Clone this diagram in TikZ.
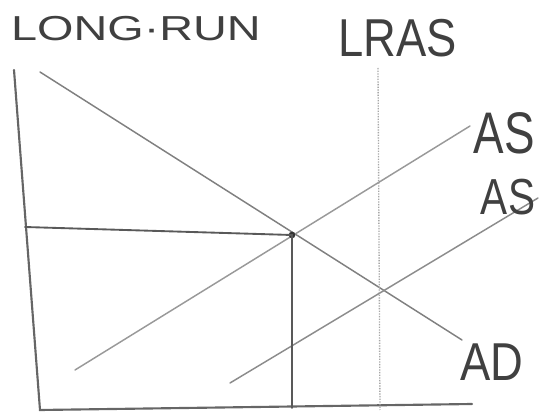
\documentclass[tikz,border=0pt]{standalone}
\usepackage{fontspec}
\setmainfont{Liberation Sans}
\begin{document}
\begin{tikzpicture}[x=0.75pt,y=-0.75pt,
  axis/.style={draw=black!60,line width=1.6pt,line cap=round},
  curve/.style={draw=black!50,line width=1.1pt,line cap=round},
  guide/.style={draw=black!65,line width=1.4pt,line cap=round},
  lras/.style={draw=black!35,line width=1pt,densely dotted},
  lbl/.style={text=black!75,inner sep=0pt,font=\fontsize{40}{40}\selectfont},
  dot/.style={circle,fill=black!80,inner sep=0pt,minimum size=5pt}]
\useasboundingbox (0,0) rectangle (540,417);
% axes
\coordinate (yTop) at (14,70);
\coordinate (O) at (40,410);
\coordinate (xEnd) at (472,404);
\coordinate (yP) at (25,227);
\draw[axis] (yTop) -- (O) -- (xEnd);
% AD
\coordinate (ADs) at (40,72);
\coordinate (ADe) at (462,340);
\draw[curve] (ADs) -- (ADe);
% AS1
\coordinate (AS1s) at (75,370);
\coordinate (AS1e) at (470,126);
\draw[curve,draw=black!40] (AS1s) -- (AS1e);
% AS2
\coordinate (AS2s) at (230,383);
\coordinate (AS2e) at (538,198);
\draw[curve,draw=black!45] (AS2s) -- (AS2e);
% LRAS
\coordinate (LRt) at (378,68);
\coordinate (LRb) at (380,410);
\draw[lras] (LRt) -- (LRb);
% equilibrium
\node[dot] (E1) at (292,235) {};
\coordinate (Qb) at (292,408);
\draw[guide] (yP) -- (E1.center) -- (Qb);
% labels
\node[lbl,font=\fontsize{26}{26}\selectfont,xscale=1.35] (title) at (136,29) {LONG·RUN};
\node[lbl,xscale=0.85] (tLRAS) at (398,38) {LRAS};
\node[lbl,font=\fontsize{44}{44}\selectfont,xscale=0.78] (tAS1) at (504,133) {AS};
\node[lbl,font=\fontsize{38}{38}\selectfont,xscale=0.8] (tAS2) at (508,197) {AS};
\node[lbl,xscale=0.85] (tAD) at (492,362) {AD};
\end{tikzpicture}
\end{document}
